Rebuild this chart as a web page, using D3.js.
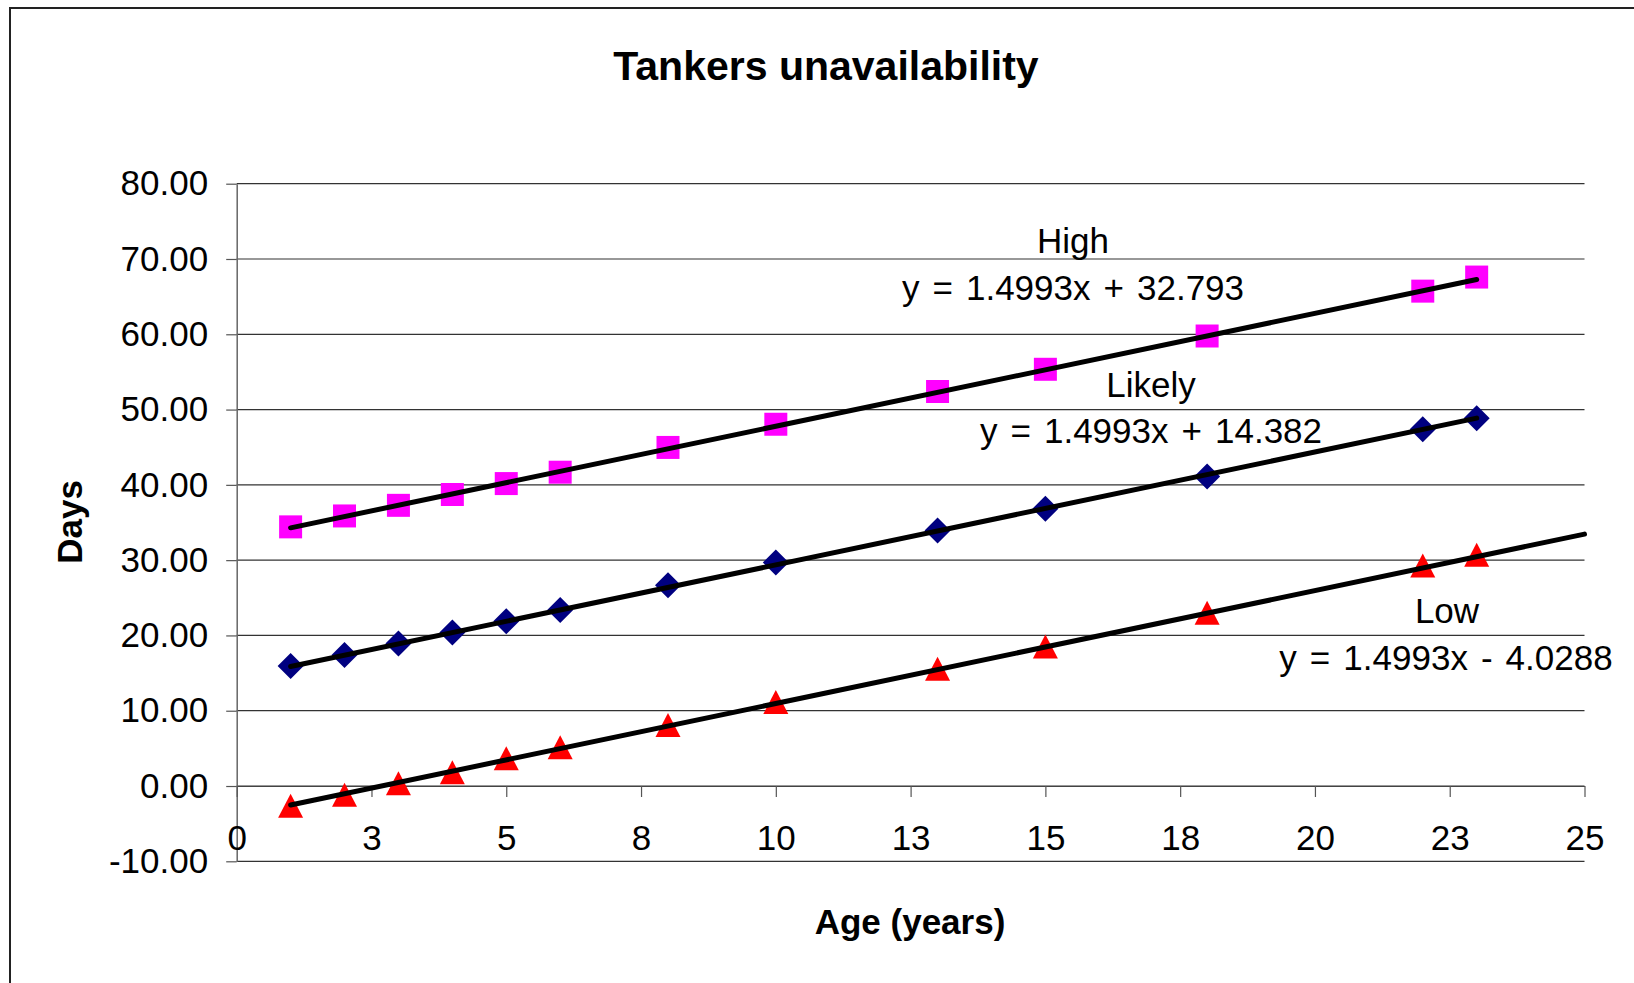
<!DOCTYPE html>
<html>
<head>
<meta charset="utf-8">
<script src="https://cdn.jsdelivr.net/npm/d3@7"></script>
<style>
  html, body { margin: 0; padding: 0; background: #fff; }
  svg { display: block; }
  text { font-family: "Liberation Sans", Arial, sans-serif; fill: #000; }
</style>
</head>
<body>
<svg id="chart" width="1634" height="983"></svg>
<script>
// ---------------- data ----------------
const ages = [1, 2, 3, 4, 5, 6, 8, 10, 13, 15, 18, 22, 23];
const highDays   = [34.42, 35.87, 37.28, 38.72, 40.17, 41.68, 44.97, 48.05, 52.40, 55.35, 59.77, 65.73, 67.60];
const likelyDays = [15.95, 17.41, 18.93, 20.40, 21.87, 23.37, 26.67, 29.68, 33.93, 36.83, 41.11, 47.37, 48.84];
const lowDays    = [-2.63, -1.16, 0.37, 1.82, 3.69, 5.16, 8.11, 11.17, 15.57, 18.53, 23.00, 29.28, 30.70];

const seriesNames = ["High", "Likely", "Low"];
const trendSlopes = [1.4993, 1.4993, 1.4993];
const trendIntercepts = [32.793, 14.382, -4.0288];
const trendEquations = ["y = 1.4993x + 32.793", "y = 1.4993x + 14.382", "y = 1.4993x - 4.0288"];
const trendStartX = [1, 1, 1];
const trendEndX = [23, 23, 25];

const xTickValues = [0, 2.5, 5, 7.5, 10, 12.5, 15, 17.5, 20, 22.5, 25];
const xTickLabels = ["0", "3", "5", "8", "10", "13", "15", "18", "20", "23", "25"];
const yTickValues = [-10, 0, 10, 20, 30, 40, 50, 60, 70, 80];

const chartTitle = "Tankers unavailability";
const xTitle = "Age (years)";
const yTitle = "Days";

// ---------------- layout ----------------
(function () {
const svg = d3.select("#chart");
const pLeft = 236.7, pRight = 1584.5, pTop = 183.7, pBottom = 861.3;
const x = d3.scaleLinear().domain([0, 25]).range([pLeft, pRight]);
const y = d3.scaleLinear().domain([-10, 80]).range([pBottom, pTop]);

const font = "'Liberation Sans', Arial, sans-serif";

// outer chart border (right/bottom edges fall outside the picture)
svg.append("rect")
  .attr("x", 10).attr("y", 8).attr("width", 1700).attr("height", 1100)
  .attr("fill", "none").attr("stroke", "#222").attr("stroke-width", 2);

// gridlines
svg.append("g").selectAll("line").data(yTickValues).join("line")
  .attr("x1", pLeft).attr("x2", pRight)
  .attr("y1", d => y(d)).attr("y2", d => y(d))
  .attr("stroke", "#333").attr("stroke-width", 1.2);

// y axis
const yAxis = d3.axisLeft(y).tickValues(yTickValues)
  .tickFormat(d => d.toFixed(2)).tickSizeInner(10.5).tickSizeOuter(0).tickPadding(18);
const gy = svg.append("g").attr("transform", `translate(${pLeft},0)`).call(yAxis);
gy.select(".domain").attr("stroke", "#666").attr("stroke-width", 1.5);
gy.selectAll(".tick line").attr("stroke", "#555").attr("stroke-width", 1.2);
gy.selectAll("text").attr("font-family", font).attr("font-size", 35).attr("fill", "#000");

// x axis (crosses at y = 0)
const xAxis = d3.axisBottom(x).tickValues(xTickValues)
  .tickFormat((d, i) => xTickLabels[i]).tickSizeInner(11).tickSizeOuter(0).tickPadding(28);
const gx = svg.append("g").attr("transform", `translate(0,${y(0)})`).call(xAxis);
gx.select(".domain").attr("stroke", "#444").attr("stroke-width", 1.2);
gx.selectAll(".tick line").attr("stroke", "#555").attr("stroke-width", 1.2);
gx.selectAll("text").attr("font-family", font).attr("font-size", 35).attr("fill", "#000");

// ---------------- markers ----------------
const squarePath = "M-11.5,-11.5h23v23h-23z";
const diamondPath = "M0,-13L13,0L0,13L-13,0Z";
const trianglePath = "M0,-12L12.5,12L-12.5,12Z";

const series = [
  { values: highDays, path: squarePath, color: "#FF00FF" },
  { values: likelyDays, path: diamondPath, color: "#000080" },
  { values: lowDays, path: trianglePath, color: "#FF0000" }
];

series.forEach(s => {
  svg.append("g").selectAll("path").data(ages.map((a, i) => [a, s.values[i]])).join("path")
    .attr("d", s.path)
    .attr("transform", d => `translate(${x(d[0])},${y(d[1])})`)
    .attr("fill", s.color);
});

// ---------------- trendlines ----------------
seriesNames.forEach((name, i) => {
  const xs = [trendStartX[i], trendEndX[i]];
  svg.append("line")
    .attr("x1", x(xs[0])).attr("y1", y(trendSlopes[i] * xs[0] + trendIntercepts[i]))
    .attr("x2", x(xs[1])).attr("y2", y(trendSlopes[i] * xs[1] + trendIntercepts[i]))
    .attr("stroke", "#000").attr("stroke-width", 5).attr("stroke-linecap", "round");
});

// ---------------- annotations ----------------
const nameLabelPos = [[1073, 253], [1151, 397], [1447, 623]];
const eqLabelPos = [[1073, 300], [1151, 443], [1446, 670]];
seriesNames.forEach((name, i) => {
  svg.append("text").attr("x", nameLabelPos[i][0]).attr("y", nameLabelPos[i][1])
    .attr("text-anchor", "middle").attr("font-size", 35).attr("font-family", font).text(name);
  svg.append("text").attr("x", eqLabelPos[i][0]).attr("y", eqLabelPos[i][1])
    .attr("text-anchor", "middle").attr("font-size", 35).attr("font-family", font)
    .attr("word-spacing", "3.3px").text(trendEquations[i]);
});

// ---------------- titles ----------------
svg.append("text").attr("x", 826).attr("y", 80).attr("text-anchor", "middle")
  .attr("font-size", 41).attr("font-weight", "bold").attr("font-family", font).text(chartTitle);
svg.append("text").attr("x", 910).attr("y", 934).attr("text-anchor", "middle")
  .attr("font-size", 35).attr("font-weight", "bold").attr("font-family", font).text(xTitle);
svg.append("text").attr("transform", "translate(82,522) rotate(-90)").attr("text-anchor", "middle")
  .attr("font-size", 35).attr("font-weight", "bold").attr("font-family", font).text(yTitle);
})();
</script>
</body>
</html>
